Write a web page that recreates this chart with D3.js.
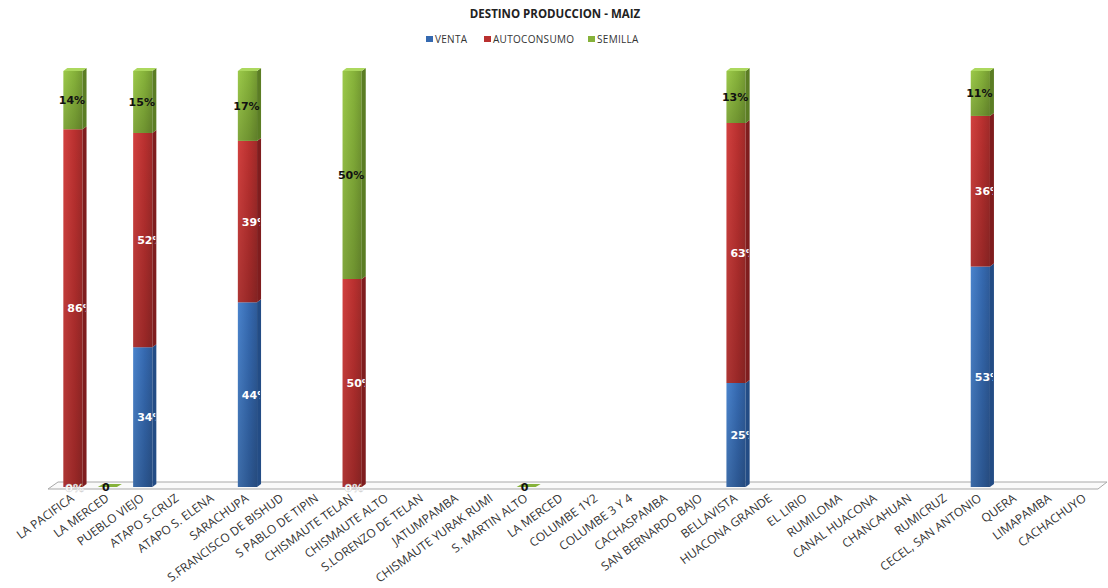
<!DOCTYPE html>
<html><head><meta charset="utf-8">
<script src="https://cdn.jsdelivr.net/npm/d3@7"></script>
<style>body{margin:0;background:#fff}svg{display:block}</style>
</head><body><svg id="c" width="1108" height="588"></svg>
<script>
const categories = ["LA PACIFICA","LA MERCED","PUEBLO VIEJO","ATAPO S.CRUZ","ATAPO S. ELENA","SARACHUPA","S.FRANCISCO DE BISHUD","S PABLO DE TIPIN","CHISMAUTE TELAN","CHISMAUTE ALTO","S.LORENZO DE TELAN","JATUMPAMBA","CHISMAUTE YURAK RUMI","S. MARTIN ALTO","LA MERCED","COLUMBE 1Y2","COLUMBE 3 Y 4","CACHASPAMBA","SAN BERNARDO BAJO","BELLAVISTA","HUACONA GRANDE","EL LIRIO","RUMILOMA","CANAL HUACONA","CHANCAHUAN","RUMICRUZ","CECEL, SAN ANTONIO","QUERA","LIMAPAMBA","CACHACHUYO"];
// percentages (null = no data)
const venta       = [0,0,33.6,null,null,44.4,null,null,0,null,null,null,null,0,null,null,null,null,null,25,null,null,null,null,null,null,53,null,null,null];
const autoconsumo = [86,0,51.5,null,null,38.8,null,null,50,null,null,null,null,0,null,null,null,null,null,62.5,null,null,null,null,null,null,36.2,null,null,null];
const semilla     = [14,0,14.9,null,null,16.8,null,null,50,null,null,null,null,0,null,null,null,null,null,12.5,null,null,null,null,null,null,10.8,null,null,null];
const seriesNames = ["VENTA","AUTOCONSUMO","SEMILLA"];
const title = "DESTINO PRODUCCION - MAIZ";

const svg = d3.select("#c");
const colors = {
  VENTA:{light:"#4a83cc",mid:"#3569b0",dark:"#234c85",top:"#5a8fd4"},
  AUTOCONSUMO:{light:"#d2413f",mid:"#b9302f",dark:"#7f1d1e",top:"#de5a57"},
  SEMILLA:{light:"#9cc94a",mid:"#86b23a",dark:"#5b7d24",top:"#acd85e"}
};
const defs = svg.append("defs");
seriesNames.forEach(s=>{
  const g = defs.append("linearGradient").attr("id","g"+s).attr("x1","0").attr("x2","1").attr("y1","0").attr("y2","0");
  g.append("stop").attr("offset","0").attr("stop-color",colors[s].light);
  g.append("stop").attr("offset","0.6").attr("stop-color",colors[s].mid);
  g.append("stop").attr("offset","1").attr("stop-color",d3.color(colors[s].mid).darker(0.4));
  const v = defs.append("linearGradient").attr("id","v"+s).attr("x1","0").attr("x2","0").attr("y1","0").attr("y2","1");
  v.append("stop").attr("offset","0").attr("stop-color","#000").attr("stop-opacity",0);
  v.append("stop").attr("offset","1").attr("stop-color","#000").attr("stop-opacity",0.18);
});

const x = d3.scaleBand().domain(d3.range(categories.length)).range([55.5,1102.5]).paddingInner(0.45).paddingOuter(0.225);
const y = d3.scaleLinear().domain([0,100]).range([487,71]);
const DX = 4, DY = 3;

svg.append("text").attr("x",555).attr("y",18).attr("text-anchor","middle")
  .attr("font-family","Open Sans, sans-serif").attr("font-weight","bold").attr("font-size",11.5).attr("fill","#222").text(title);

// legend
const legX = [426,484,588];
seriesNames.forEach((s,i)=>{
  svg.append("rect").attr("x",legX[i]).attr("y",36).attr("width",7).attr("height",6).attr("fill",colors[s].mid);
  svg.append("text").attr("x",legX[i]+9).attr("y",43).attr("font-family","Open Sans, sans-serif").attr("font-size",10)
    .attr("letter-spacing",0.3).attr("fill","#333").text(s);
});

// floor
svg.append("polygon").attr("points",[[48,489],[1098,489],[1107,482],[58,482]].map(p=>p.join(",")).join(" "))
  .attr("fill","#fafafa").attr("stroke","#a8a8a8").attr("stroke-width",1);

// axis
const axis = d3.axisBottom(x).tickSize(0).tickFormat(i=>categories[i]);
const ax = svg.append("g").attr("transform","translate(0,490)").call(axis);
ax.select(".domain").remove();
ax.selectAll("text").attr("font-family","Open Sans, sans-serif").attr("font-size",12).attr("fill","#333")
  .attr("text-anchor","end").attr("dy",null).attr("y",0)
  .attr("transform","translate(2,10) rotate(-36)");

const table = categories.map((c,i)=>({i, VENTA:venta[i], AUTOCONSUMO:autoconsumo[i], SEMILLA:semilla[i]}));
const stack = d3.stack().keys(seriesNames).value((d,k)=>d[k]||0)(table);

const bars = svg.append("g");
const labels = svg.append("g");
table.forEach((d,i)=>{
  if (d.VENTA==null) return;
  const l = x(i), w = x.bandwidth(), r = l + w, cx = l + w/2;
  const total = (d.VENTA||0)+(d.AUTOCONSUMO||0)+(d.SEMILLA||0);
  if (total===0){
    bars.append("polygon").attr("points",[[cx-10,487],[cx+9,487],[cx+14,484],[cx-5,484]].map(p=>p.join(",")).join(" "))
      .attr("fill",colors.SEMILLA.mid);
    labels.append("text").attr("x",cx-2).attr("y",491).attr("text-anchor","middle").attr("font-family","DejaVu Sans, sans-serif")
      .attr("font-weight","bold").attr("font-size",11).attr("fill","#111").text("0");
    return;
  }
  const cp = defs.append("clipPath").attr("id","cp"+i);
  cp.append("rect").attr("x",l-1).attr("y",0).attr("width",w+DX).attr("height",588);
  let topY = null, topS = null;
  stack.forEach(layer=>{
    const s = layer.key, seg = layer[i];
    const y0 = y(seg[0]), y1 = y(seg[1]);
    if (seg[1]-seg[0] <= 0) return;
    bars.append("rect").attr("x",l).attr("y",y1).attr("width",w).attr("height",y0-y1).attr("fill","url(#g"+s+")");
    bars.append("rect").attr("x",l).attr("y",y1).attr("width",w).attr("height",y0-y1).attr("fill","url(#v"+s+")");
    bars.append("polygon").attr("points",[[r,y1],[r+DX,y1-DY],[r+DX,y0-DY],[r,y0]].map(p=>p.join(",")).join(" "))
      .attr("fill",colors[s].dark);
    topY = y1; topS = s;
    const v = d[s];
    const ly = (y0+y1)/2 + 4;
    if (s==="SEMILLA"){
      labels.append("text").attr("x",cx-1).attr("y",ly).attr("text-anchor","middle").attr("font-family","DejaVu Sans, sans-serif")
        .attr("font-weight","bold").attr("font-size",11).attr("fill","#111").text(Math.round(v)+"%");
    } else {
      labels.append("text").attr("x",l+4).attr("y",ly).attr("clip-path","url(#cp"+i+")").attr("font-family","DejaVu Sans, sans-serif")
        .attr("font-weight","bold").attr("font-size",11).attr("fill","#fff").text(Math.round(v)+"%");
    }
  });
  // zero venta label at bottom
  if (d.VENTA===0){
    labels.append("text").attr("x",l+2).attr("y",492).attr("font-family","DejaVu Sans, sans-serif")
      .attr("font-weight","bold").attr("font-size",11).attr("fill","#fff").attr("stroke","#bbb").attr("stroke-width",0.3)
      .attr("clip-path","url(#cp"+i+")").text("0%");
  }
  if (topY!=null){
    bars.append("polygon").attr("points",[[l,topY],[l+DX,topY-DY],[r+DX,topY-DY],[r,topY]].map(p=>p.join(",")).join(" "))
      .attr("fill",colors[topS].top);
  }
});
</script></body></html>
